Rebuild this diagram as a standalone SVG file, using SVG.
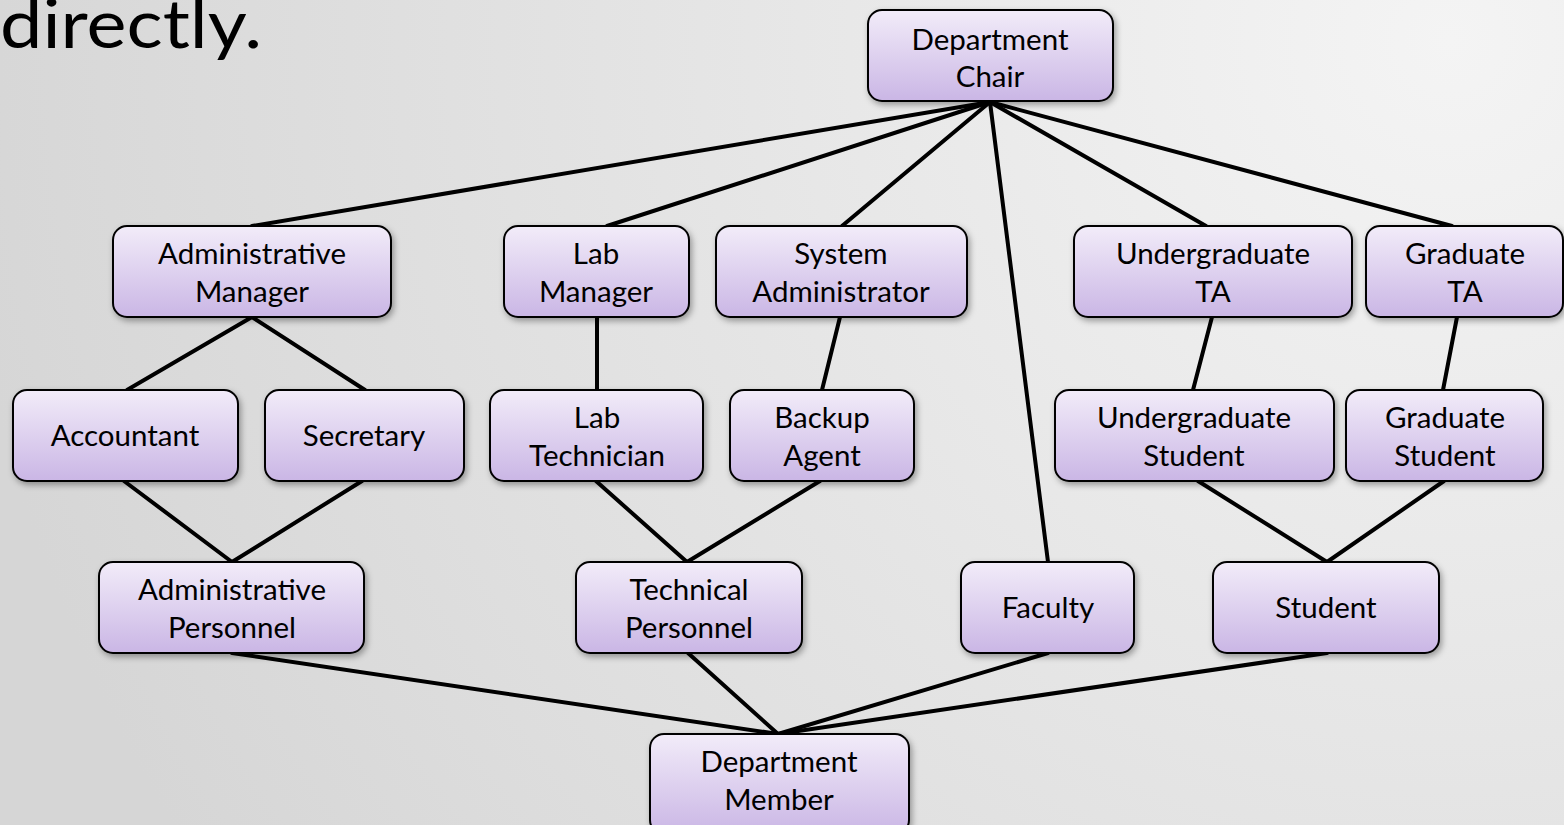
<svg xmlns="http://www.w3.org/2000/svg" width="1564" height="825" viewBox="0 0 1564 825">
<style>
.n rect{fill:url(#ng);stroke:#000;stroke-width:2;filter:url(#sh)}
.n text{font-family:Lato,"Liberation Sans",sans-serif;font-size:29.5px;fill:#000;text-anchor:middle}
#edges line{stroke:#000;stroke-width:4;stroke-linecap:round}
</style>
<defs>
<radialGradient id="bg" cx="1450" cy="40" r="1500" gradientUnits="userSpaceOnUse">
<stop offset="0" stop-color="#f4f4f4"/>
<stop offset="1" stop-color="#d6d6d6"/>
</radialGradient>
<linearGradient id="ng" x1="0" y1="0" x2="0" y2="1">
<stop offset="0" stop-color="#f2ecf9"/>
<stop offset="1" stop-color="#cab6e5"/>
</linearGradient>
<filter id="sh" x="-10%" y="-10%" width="125%" height="135%">
<feDropShadow dx="2" dy="3" stdDeviation="3" flood-color="#000" flood-opacity="0.35"/>
</filter>
</defs>
<rect width="1564" height="825" fill="url(#bg)"/>
<text x="0" y="48" font-family="Lato,'Liberation Sans',sans-serif" font-size="68" fill="#000" textLength="262" lengthAdjust="spacingAndGlyphs">directly.</text>
<g id="edges">
<line x1="990" y1="102" x2="252" y2="226"/>
<line x1="990" y1="102" x2="607" y2="226"/>
<line x1="990" y1="102" x2="842" y2="226"/>
<line x1="990" y1="102" x2="1048" y2="562"/>
<line x1="990" y1="102" x2="1206" y2="226"/>
<line x1="990" y1="102" x2="1452" y2="226"/>
<line x1="252" y1="317" x2="127" y2="390"/>
<line x1="252" y1="317" x2="365" y2="390"/>
<line x1="124" y1="481" x2="232" y2="562"/>
<line x1="362" y1="481" x2="232" y2="562"/>
<line x1="597" y1="317" x2="597" y2="390"/>
<line x1="840" y1="317" x2="822" y2="390"/>
<line x1="596" y1="481" x2="687" y2="562"/>
<line x1="820" y1="481" x2="687" y2="562"/>
<line x1="1212" y1="317" x2="1193" y2="390"/>
<line x1="1457" y1="317" x2="1443" y2="390"/>
<line x1="1198" y1="481" x2="1327" y2="562"/>
<line x1="1444" y1="481" x2="1327" y2="562"/>
<line x1="232" y1="653" x2="778" y2="734"/>
<line x1="688" y1="653" x2="778" y2="734"/>
<line x1="1048" y1="653" x2="778" y2="734"/>
<line x1="1327" y1="653" x2="778" y2="734"/>
</g>
<g id="chair" class="n"><rect x="868" y="10" width="245" height="91" rx="14"/><text x="990" y="50">Department</text><text x="990" y="87">Chair</text></g>
<g id="adminMgr" class="n"><rect x="113" y="226" width="278" height="91" rx="14"/><text x="252" y="264">Administrative</text><text x="252" y="302">Manager</text></g>
<g id="labMgr" class="n"><rect x="504" y="226" width="185" height="91" rx="14"/><text x="596" y="264">Lab</text><text x="596" y="302">Manager</text></g>
<g id="sysAdmin" class="n"><rect x="716" y="226" width="251" height="91" rx="14"/><text x="841" y="264">System</text><text x="841" y="302">Administrator</text></g>
<g id="ugTA" class="n"><rect x="1074" y="226" width="278" height="91" rx="14"/><text x="1213" y="264">Undergraduate</text><text x="1213" y="302">TA</text></g>
<g id="gradTA" class="n"><rect x="1366" y="226" width="197" height="91" rx="14"/><text x="1465" y="264">Graduate</text><text x="1465" y="302">TA</text></g>
<g id="accountant" class="n"><rect x="13" y="390" width="225" height="91" rx="14"/><text x="125" y="446">Accountant</text></g>
<g id="secretary" class="n"><rect x="265" y="390" width="199" height="91" rx="14"/><text x="364" y="446">Secretary</text></g>
<g id="labTech" class="n"><rect x="490" y="390" width="213" height="91" rx="14"/><text x="597" y="428">Lab</text><text x="597" y="466">Technician</text></g>
<g id="backup" class="n"><rect x="730" y="390" width="184" height="91" rx="14"/><text x="822" y="428">Backup</text><text x="822" y="466">Agent</text></g>
<g id="ugStudent" class="n"><rect x="1055" y="390" width="279" height="91" rx="14"/><text x="1194" y="428">Undergraduate</text><text x="1194" y="466">Student</text></g>
<g id="gradStudent" class="n"><rect x="1346" y="390" width="197" height="91" rx="14"/><text x="1445" y="428">Graduate</text><text x="1445" y="466">Student</text></g>
<g id="adminPers" class="n"><rect x="99" y="562" width="265" height="91" rx="14"/><text x="232" y="600">Administrative</text><text x="232" y="638">Personnel</text></g>
<g id="techPers" class="n"><rect x="576" y="562" width="226" height="91" rx="14"/><text x="689" y="600">Technical</text><text x="689" y="638">Personnel</text></g>
<g id="faculty" class="n"><rect x="961" y="562" width="173" height="91" rx="14"/><text x="1048" y="618">Faculty</text></g>
<g id="student" class="n"><rect x="1213" y="562" width="226" height="91" rx="14"/><text x="1326" y="618">Student</text></g>
<g id="deptMember" class="n"><rect x="650" y="734" width="259" height="100" rx="14"/><text x="779" y="772">Department</text><text x="779" y="810">Member</text></g>
</svg>
